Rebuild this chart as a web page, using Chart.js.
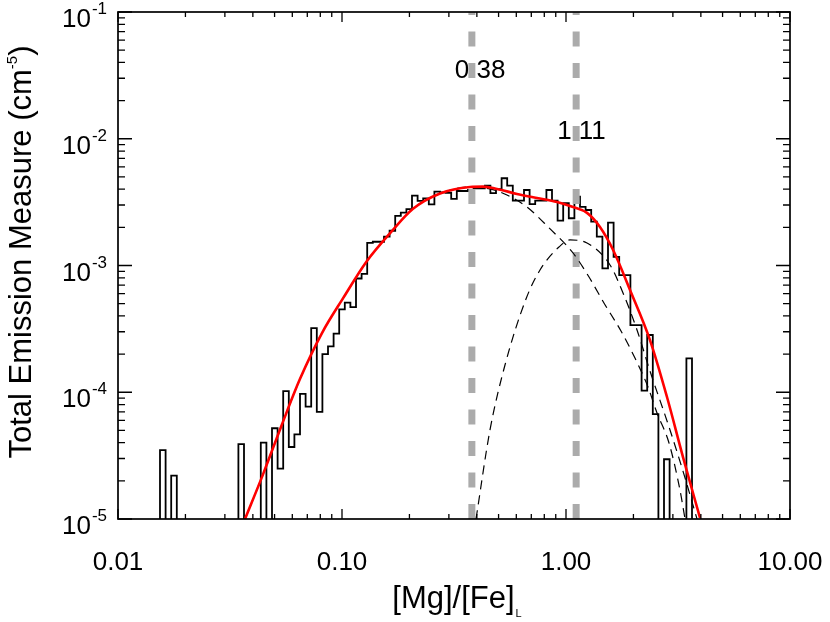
<!DOCTYPE html>
<html>
<head>
<meta charset="UTF-8">
<title>Total Emission Measure vs [Mg]/[Fe]</title>
<script src="https://cdn.jsdelivr.net/npm/chart.js"></script>
<style>
  body { margin: 0; background: #fff; }
</style>
</head>
<body>
<canvas id="emChart" width="830" height="622"></canvas>
<script>
// histogram bins: 0.025 dex wide in log10([Mg]/[Fe]), first lower edge at 10^-1.8125
const binLowEdgeLog = -1.8125;
const binWidthLog = 0.025;
const histEM = [
  3.5e-5, 0, 2.2e-5, 0, 0, 0, 0, 0, 0, 0,
  0, 0, 0, 0, 3.9e-5, 0, 0, 0, 4.0e-5, 0,
  5.2e-5, 2.5e-5, 1.02e-4, 3.7e-5, 4.65e-5, 9.7e-5, 7.7e-5, 3.2e-4, 7.0e-5, 2.0e-4,
  2.3e-4, 2.9e-4, 4.5e-4, 5.1e-4, 4.7e-4, 7.9e-4, 8.6e-4, 1.51e-3, 1.54e-3, 1.54e-3,
  1.69e-3, 1.88e-3, 2.46e-3, 2.61e-3, 2.78e-3, 3.56e-3, 3.23e-3, 3.39e-3, 3.04e-3, 3.82e-3,
  3.78e-3, 3.75e-3, 3.35e-3, 3.87e-3, 3.87e-3, 3.94e-3, 4.06e-3, 4.06e-3, 4.27e-3, 3.72e-3,
  4.01e-3, 4.88e-3, 4.27e-3, 3.25e-3, 3.25e-3, 3.94e-3, 3.05e-3, 3.25e-3, 3.25e-3, 3.94e-3,
  3.25e-3, 2.26e-3, 3.10e-3, 2.36e-3, 3.49e-3, 2.9e-3, 2.74e-3, 2.22e-3, 1.69e-3, 9.5e-4,
  2.18e-3, 1.17e-3, 8.41e-4, 8.41e-4, 3.39e-4, 3.39e-4, 1.03e-4, 2.83e-4, 6.73e-5, 0,
  2.96e-5, 0, 0, 0, 1.85e-4
];

// total fit (red)
const fitX = [0.0369, 0.0444, 0.0540, 0.0649, 0.0814, 0.101, 0.129, 0.164, 0.2075, 0.274,
  0.373, 0.426, 0.492, 0.604, 0.742, 0.912, 1.075, 1.241, 1.418, 1.621,
  1.931, 2.371, 2.824, 3.329, 3.965];
const fitEM = [1.0e-5, 2.25e-5, 5.6e-5, 1.27e-4, 2.93e-4, 5.5e-4, 1.08e-3, 1.80e-3, 2.80e-3, 3.70e-3,
  4.16e-3, 4.19e-3, 4.02e-3, 3.67e-3, 3.41e-3, 3.17e-3, 2.89e-3, 2.60e-3, 2.01e-3, 1.33e-3,
  6.41e-4, 2.58e-4, 9.17e-5, 3.08e-5, 1.02e-5];

// first component (dashed)
const comp1X = [0.0369, 0.0444, 0.0540, 0.0649, 0.0814, 0.101, 0.129, 0.164, 0.2075, 0.274,
  0.373, 0.458, 0.545, 0.670, 0.840, 1.075, 1.267, 1.477, 1.760, 2.032,
  2.323, 2.549, 2.883, 3.228, 3.399];
const comp1EM = [1.0e-5, 2.25e-5, 5.6e-5, 1.27e-4, 2.93e-4, 5.5e-4, 1.08e-3, 1.80e-3, 2.80e-3, 3.70e-3,
  4.16e-3, 4.02e-3, 3.60e-3, 2.89e-3, 1.98e-3, 1.255e-3, 8.11e-4, 5.06e-4, 3.04e-4, 1.86e-4,
  1.10e-4, 6.86e-5, 3.98e-5, 1.69e-5, 1.0e-5];

// second component (dashed)
const comp2X = [0.3965, 0.4578, 0.5341, 0.6627, 0.7655, 0.9307, 1.042, 1.241, 1.572, 1.797,
  2.075, 2.371, 2.913, 3.399, 3.844];
const comp2EM = [1.0e-5, 5.04e-5, 1.64e-4, 5.44e-4, 9.22e-4, 1.40e-3, 1.59e-3, 1.505e-3, 1.01e-3, 6.07e-4,
  3.10e-4, 1.47e-4, 5.04e-5, 2.11e-5, 1.0e-5];

// peak markers
const peakX = [0.38, 1.11];
const peakLabels = ['0.38', '1.11'];
const peakLabelY = [0.03, 0.01];

const xTickValues = [0.01, 0.1, 1, 10];
const xTickLabels = ['0.01', '0.10', '1.00', '10.00'];
const yTickExponents = [-5, -4, -3, -2, -1];

const FONT = '"Liberation Sans", Arial, Helvetica, sans-serif';
const FLOOR = 1e-7; // empty bins drop below the axis

// build step outline of the histogram
const histPoints = [];
histPoints.push({x: Math.pow(10, binLowEdgeLog), y: FLOOR});
histEM.forEach(function(v, i) {
  const lo = Math.pow(10, binLowEdgeLog + i * binWidthLog);
  const hi = Math.pow(10, binLowEdgeLog + (i + 1) * binWidthLog);
  const yv = v > 0 ? v : FLOOR;
  histPoints.push({x: lo, y: yv});
  histPoints.push({x: hi, y: yv});
});
histPoints.push({x: Math.pow(10, binLowEdgeLog + histEM.length * binWidthLog), y: FLOOR});

function pairs(xs, ys) {
  return xs.map(function(x, i) { return {x: x, y: ys[i]}; });
}

const peakLines = peakX.map(function(p) {
  return {
    data: [{x: p, y: 1e-5}, {x: p, y: 1e-1}],
    borderColor: '#ababab',
    borderWidth: 7,
    borderDash: [15, 16.5],
    pointRadius: 0
  };
});

const axesPlugin = {
  id: 'axesPlugin',
  beforeDatasetsDraw(chart) {
    const ctx = chart.ctx, x = chart.scales.x, y = chart.scales.y;
    ctx.save();
    ctx.fillStyle = '#000';
    ctx.font = '26px ' + FONT;
    ctx.textAlign = 'left';
    ctx.textBaseline = 'alphabetic';
    const offs = [-17, -19];
    peakX.forEach(function(p, i) {
      ctx.fillText(peakLabels[i], x.getPixelForValue(p) + offs[i], y.getPixelForValue(peakLabelY[i]));
    });
    ctx.restore();
  },
  afterDatasetsDraw(chart) {
    const ctx = chart.ctx, a = chart.chartArea;
    const x = chart.scales.x, y = chart.scales.y;
    ctx.save();
    ctx.strokeStyle = '#000';
    ctx.lineWidth = 1.7;
    ctx.strokeRect(a.left, a.top, a.right - a.left, a.bottom - a.top);

    ctx.lineWidth = 1.3;
    ctx.beginPath();
    // x ticks, bottom and top, pointing inward
    for (let d = -2; d <= 1; d++) {
      for (let m = 1; m <= 9; m++) {
        if (d === 1 && m > 1) break;
        const px = x.getPixelForValue(m * Math.pow(10, d));
        const len = m === 1 ? 10 : 5;
        ctx.moveTo(px, a.bottom); ctx.lineTo(px, a.bottom - len);
        ctx.moveTo(px, a.top); ctx.lineTo(px, a.top + len);
      }
    }
    // y ticks, left and right
    for (let d = -5; d <= -1; d++) {
      for (let m = 1; m <= 9; m++) {
        if (d === -1 && m > 1) break;
        const py = y.getPixelForValue(m * Math.pow(10, d));
        const len = m === 1 ? 14 : 7;
        ctx.moveTo(a.left, py); ctx.lineTo(a.left + len, py);
        ctx.moveTo(a.right, py); ctx.lineTo(a.right - len, py);
      }
    }
    ctx.stroke();

    ctx.fillStyle = '#000';
    // x tick labels
    ctx.font = '26px ' + FONT;
    ctx.textAlign = 'center';
    ctx.textBaseline = 'alphabetic';
    xTickValues.forEach(function(v, i) {
      ctx.fillText(xTickLabels[i], x.getPixelForValue(v), a.bottom + 51);
    });

    // y tick labels 10^n
    yTickExponents.forEach(function(e) {
      const py = y.getPixelForValue(Math.pow(10, e));
      ctx.font = '17px ' + FONT;
      const sup = '-' + String(-e);
      const sw = ctx.measureText(sup).width;
      const right = a.left - 11;
      ctx.textAlign = 'left';
      ctx.fillText(sup, right - sw, py + 2);
      ctx.font = '26px ' + FONT;
      ctx.textAlign = 'right';
      ctx.fillText('10', right - sw - 1, py + 15);
    });

    // x axis title with subscript
    ctx.font = '31px ' + FONT;
    const main = '[Mg]/[Fe]';
    const mw = ctx.measureText(main).width;
    ctx.font = '11px ' + FONT;
    const subw = ctx.measureText('L').width;
    const cx = (a.left + a.right) / 2 + 3;
    const startX = cx - (mw + subw + 1) / 2;
    ctx.textAlign = 'left';
    ctx.font = '31px ' + FONT;
    ctx.fillText(main, startX, 608);
    ctx.font = '11px ' + FONT;
    ctx.fillText('L', startX + mw + 1, 617);

    // y axis title with superscript
    ctx.save();
    ctx.translate(31, 252);
    ctx.rotate(-Math.PI / 2);
    ctx.font = '31px ' + FONT;
    const t1 = 'Total Emission Measure (cm';
    const t1w = ctx.measureText(t1).width;
    ctx.font = '15px ' + FONT;
    const supw = ctx.measureText('-5').width;
    ctx.font = '31px ' + FONT;
    const t2w = ctx.measureText(')').width;
    const tx = -(t1w + supw + t2w) / 2;
    ctx.textAlign = 'left';
    ctx.fillText(t1, tx, 0);
    ctx.font = '15px ' + FONT;
    ctx.fillText('-5', tx + t1w, -14);
    ctx.font = '31px ' + FONT;
    ctx.fillText(')', tx + t1w + supw, 0);
    ctx.restore();

    ctx.restore();
  }
};

const chart = new Chart(document.getElementById('emChart').getContext('2d'), {
  type: 'line',
  data: {
    datasets: [
      {
        label: 'total fit',
        data: pairs(fitX, fitEM),
        borderColor: '#ff0000',
        borderWidth: 2.6,
        pointRadius: 0,
        cubicInterpolationMode: 'monotone'
      },
      {
        label: 'component 1',
        data: pairs(comp1X, comp1EM),
        borderColor: '#000',
        borderWidth: 1.2,
        borderDash: [9, 6],
        pointRadius: 0,
        cubicInterpolationMode: 'monotone'
      },
      {
        label: 'component 2',
        data: pairs(comp2X, comp2EM),
        borderColor: '#000',
        borderWidth: 1.2,
        borderDash: [9, 6],
        pointRadius: 0,
        cubicInterpolationMode: 'monotone'
      },
      peakLines[0],
      peakLines[1],
      {
        label: 'histogram',
        data: histPoints,
        borderColor: '#000',
        borderWidth: 1.8,
        pointRadius: 0,
        tension: 0
      }
    ]
  },
  options: {
    responsive: false,
    animation: false,
    devicePixelRatio: 1,
    layout: { padding: { left: 118, top: 12, right: 40, bottom: 103 } },
    plugins: { legend: { display: false }, tooltip: { enabled: false } },
    scales: {
      x: { type: 'logarithmic', min: 0.01, max: 10, display: false },
      y: { type: 'logarithmic', min: 1e-5, max: 1e-1, display: false }
    }
  },
  plugins: [axesPlugin]
});
</script>
</body>
</html>
